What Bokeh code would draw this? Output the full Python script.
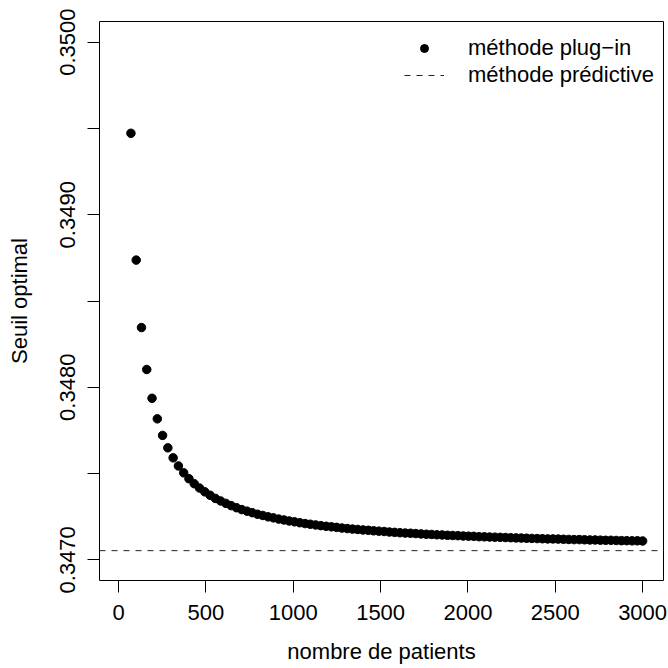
from bokeh.plotting import figure
from bokeh.models import Range1d, FixedTicker, PrintfTickFormatter, Legend, LegendItem, ColumnDataSource
from bokeh.embed import file_html
from bokeh.resources import INLINE

# ---- data ----
n_patients = [
    70.4, 100.6, 130.8, 161.0, 191.2, 221.4, 251.6, 281.8, 312.0, 342.2,
    372.4, 402.6, 432.8, 463.0, 493.2, 523.4, 553.6, 583.8, 614.0, 644.2,
    674.4, 704.6, 734.8, 765.1, 795.3, 825.5, 855.7, 885.9, 916.1, 946.3,
    976.5, 1006.7, 1036.9, 1067.1, 1097.3, 1127.5, 1157.7, 1187.9, 1218.1, 1248.3,
    1278.5, 1308.7, 1338.9, 1369.1, 1399.3, 1429.5, 1459.7, 1489.9, 1520.1, 1550.3,
    1580.5, 1610.7, 1640.9, 1671.1, 1701.3, 1731.5, 1761.7, 1791.9, 1822.1, 1852.3,
    1882.5, 1912.7, 1942.9, 1973.1, 2003.3, 2033.5, 2063.7, 2093.9, 2124.1, 2154.3,
    2184.5, 2214.7, 2244.9, 2275.2, 2305.4, 2335.6, 2365.8, 2396.0, 2426.2, 2456.4,
    2486.6, 2516.8, 2547.0, 2577.2, 2607.4, 2637.6, 2667.8, 2698.0, 2728.2, 2758.4,
    2788.6, 2818.8, 2849.0, 2879.2, 2909.4, 2939.6, 2969.8, 3000.0,
]
seuil_plugin = [
    0.349472, 0.348737, 0.348346, 0.348103, 0.347936, 0.347817, 0.347721, 0.347649, 0.347591, 0.347544,
    0.347504, 0.347470, 0.347441, 0.347416, 0.347394, 0.347374, 0.347356, 0.347341, 0.347327, 0.347314,
    0.347302, 0.347291, 0.347282, 0.347273, 0.347264, 0.347257, 0.347249, 0.347243, 0.347236, 0.347231,
    0.347225, 0.347220, 0.347215, 0.347210, 0.347206, 0.347202, 0.347198, 0.347194, 0.347191, 0.347188,
    0.347184, 0.347181, 0.347178, 0.347176, 0.347173, 0.347171, 0.347168, 0.347166, 0.347164, 0.347161,
    0.347159, 0.347157, 0.347155, 0.347154, 0.347152, 0.347150, 0.347148, 0.347147, 0.347145, 0.347144,
    0.347142, 0.347141, 0.347140, 0.347138, 0.347137, 0.347136, 0.347134, 0.347133, 0.347132, 0.347131,
    0.347130, 0.347129, 0.347128, 0.347127, 0.347126, 0.347125, 0.347124, 0.347123, 0.347122, 0.347121,
    0.347121, 0.347120, 0.347119, 0.347118, 0.347117, 0.347117, 0.347116, 0.347115, 0.347115, 0.347114,
    0.347113, 0.347113, 0.347112, 0.347111, 0.347111, 0.347110, 0.347110, 0.347109,
]
seuil_predictif = 0.347053

x_ticks = [0, 500, 1000, 1500, 2000, 2500, 3000]
y_ticks_labelled = [0.347, 0.348, 0.349, 0.350]
y_ticks_unlabelled = [0.3475, 0.3485, 0.3495]

legend_labels = ["méthode plug−in", "méthode prédictive"]
x_title = "nombre de patients"
y_title = "Seuil optimal"

FONT = "Liberation Sans"
FS = "22px"

x_range = Range1d(-109.6, 3119.6)
y_range = Range1d(0.34688, 0.35012)

p = figure(width=668, height=668, output_backend="svg", toolbar_location=None,
           x_range=x_range, y_range=y_range,
           min_border_left=99, min_border_right=5, min_border_top=21, min_border_bottom=88)
p.xgrid.visible = False
p.ygrid.visible = False
p.outline_line_color = "black"
p.outline_line_width = 1
p.background_fill_color = "white"
p.border_fill_color = "white"

src = ColumnDataSource(dict(x=n_patients, y=seuil_plugin))
pts = p.scatter("x", "y", source=src, size=8.5, marker="circle",
                fill_color="black", line_color="black")

# horizontal line of the predictive method, across the whole x range
pred_src = ColumnDataSource(dict(x=[x_range.start, x_range.end],
                                 y=[seuil_predictif, seuil_predictif]))
pred = p.line("x", "y", source=pred_src, line_color="#222222", line_dash="6 6", line_width=1)

legend = Legend(items=[LegendItem(label=legend_labels[0], renderers=[pts]),
                       LegendItem(label=legend_labels[1], renderers=[pred])],
                location=(305, 492), border_line_color=None, background_fill_alpha=0,
                padding=0, margin=0, spacing=1, glyph_width=40, glyph_height=20,
                label_height=20, label_standoff=24,
                label_text_font=FONT, label_text_font_size=FS, label_text_color="black")
p.add_layout(legend)

for ax in (p.xaxis[0], p.yaxis[0]):
    ax.axis_line_color = "black"
    ax.major_tick_line_color = "black"
    ax.minor_tick_line_color = "black"
    ax.major_tick_out = 12
    ax.major_tick_in = 0
    ax.minor_tick_out = 12
    ax.minor_tick_in = 0
    ax.major_label_text_font = FONT
    ax.major_label_text_font_size = FS
    ax.major_label_text_color = "black"
    ax.axis_label_text_font = FONT
    ax.axis_label_text_font_size = FS
    ax.axis_label_text_font_style = "normal"
    ax.axis_label_text_color = "black"

xa = p.xaxis[0]
xa.ticker = FixedTicker(ticks=x_ticks, minor_ticks=[])
xa.bounds = (x_ticks[0], x_ticks[-1])
xa.axis_label = x_title
xa.major_label_standoff = 12
xa.axis_label_standoff = 16

ya = p.yaxis[0]
ya.ticker = FixedTicker(ticks=y_ticks_labelled, minor_ticks=y_ticks_unlabelled)
ya.formatter = PrintfTickFormatter(format="%.4f")
ya.bounds = (y_ticks_labelled[0], y_ticks_labelled[-1])
ya.major_label_orientation = "vertical"
ya.axis_label = y_title
ya.major_label_standoff = 12
ya.axis_label_standoff = 26

open("out.html", "w").write(file_html(p, INLINE))
